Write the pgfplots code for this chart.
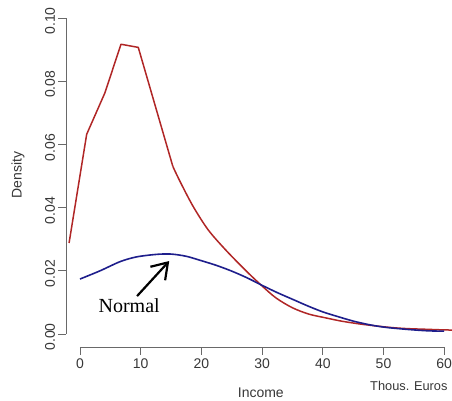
\documentclass[border=0pt]{standalone}
\usepackage{fontspec}
\setmainfont{Liberation Sans}
\newfontfamily\timesfont{Liberation Serif}
\usepackage{pgfplots}
\pgfplotsset{compat=1.18}
\usetikzlibrary{arrows.meta}

\definecolor{densred}{RGB}{176,38,38}
\definecolor{normblue}{RGB}{30,30,140}
\definecolor{axgray}{RGB}{105,105,105}
\definecolor{txtgray}{RGB}{55,55,55}

\begin{document}
\begin{tikzpicture}[x=1pt,y=1pt]
\begin{axis}[
    at={(66pt,53pt)}, anchor=south west,
    scale only axis,
    width=392pt, height=347pt,
    xmin=-2.306, xmax=62.27,
    ymin=-0.00411, ymax=0.1057,
    clip mode=individual,
    % R style: no box, lines drawn by hand below
    axis lines*=left,
    axis line style={draw=none},
    tick align=outside,
    major tick length=7.5pt,
    tick style={axgray, line width=0.9pt},
    xtick={0,10,20,30,40,50,60},
    ytick={0,0.02,0.04,0.06,0.08,0.1},
    /pgf/number format/assume math mode=true,
    ticklabel style={font=\fontsize{14}{14}\selectfont, text=txtgray},
    xticklabel style={yshift=-1pt},
    yticklabel style={rotate=90, anchor=south, xshift=-3pt,
      /pgf/number format/fixed, /pgf/number format/fixed zerofill,
      /pgf/number format/precision=2},
    xlabel={Income},
    xlabel style={at={(axis description cs:0.497,-0.1326)}, anchor=center,
      font=\fontsize{14}{14}\selectfont, text=txtgray},
    ylabel={Density},
    ylabel style={at={(axis description cs:-0.1224,0.496)}, anchor=center,
      rotate=0, font=\fontsize{14}{14}\selectfont, text=txtgray},
]

  % density of incomes: straight pieces up to the kink, smooth tail after it
  \addplot[densred, line width=1.5pt, line join=round] coordinates {
    (-1.8,0.0288) (1.1,0.0632) (4.1,0.0763) (6.75,0.0917) (9.6,0.0907)
    (15.3,0.0530)
  };
  \addplot[densred, line width=1.5pt, smooth, tension=0.5] coordinates {
    (15.3,0.0530) (16.5,0.0482) (18.6,0.0405) (21.1,0.0330) (24.0,0.0266)
    (27.35,0.0200) (30.0,0.0152) (32.3,0.0114) (35.0,0.0083) (37.7,0.0063)
    (40.5,0.0051) (43.0,0.0041) (46.0,0.0032) (49.0,0.0025) (51.6,0.0020)
    (54.0,0.0017) (57.0,0.0015) (60.0,0.0013) (63.0,0.0012)
  };

  % normal fit
  \addplot[normblue, line width=1.6pt, smooth, tension=0.5] coordinates {
    (0,0.0174) (3.3,0.0200) (6.6,0.0229) (9.3,0.0244) (12.6,0.0252)
    (15.0,0.0253) (17.5,0.0246) (20.0,0.0232) (22.5,0.0217) (25.0,0.0199)
    (27.5,0.0178) (30.0,0.0154) (32.5,0.0131) (35.0,0.0110) (37.5,0.0089)
    (40.0,0.0070) (42.5,0.0055) (45.0,0.0041) (47.5,0.0030) (50.0,0.0022)
    (52.5,0.0017) (55.0,0.0013) (57.5,0.0010) (60.0,0.0009)
  };

  % axis lines only between first and last tick
  \draw[axgray, line width=0.9pt]
    ({rel axis cs:0,0} |- {axis cs:0,0}) -- ({rel axis cs:0,0} |- {axis cs:0,0.1});
  \draw[axgray, line width=0.9pt]
    ({axis cs:0,0} |- {rel axis cs:0,0}) -- ({axis cs:60,0} |- {rel axis cs:0,0});

  \draw[black, line width=2.2pt, -{Straight Barb[length=15pt, width=20pt]}]
    (axis cs:9.4,0.0120) -- (axis cs:14.7,0.0231);
  \node[font=\timesfont\fontsize{20}{20}\selectfont] at (axis cs:8.1,0.0089) {Normal};

  \node[anchor=west, inner sep=0pt, font=\fontsize{12.8}{12.8}\selectfont, text=txtgray]
    at (axis description cs:0.7755,-0.1124) {Thous. Euros};
\end{axis}
\pgfresetboundingbox
\path[use as bounding box] (0,0) rectangle (452,400);
\end{tikzpicture}
\end{document}
